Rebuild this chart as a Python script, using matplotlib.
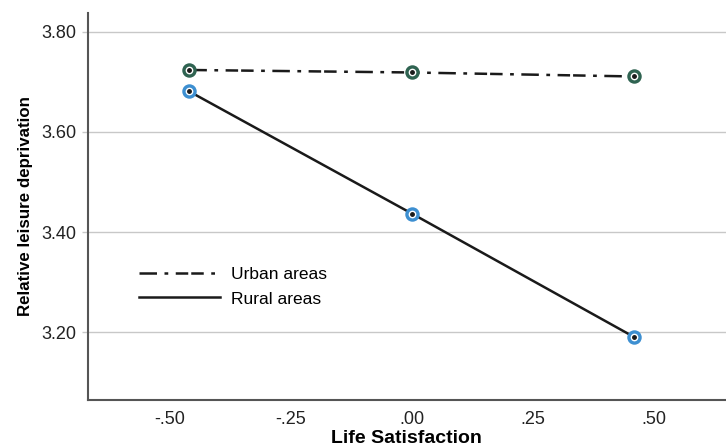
import matplotlib
matplotlib.use("Agg")
import matplotlib.pyplot as plt
from matplotlib.ticker import FuncFormatter

plt.rcParams['font.family'] = ['Liberation Sans', 'DejaVu Sans']

# data
life_sat = [-0.46, 0.0, 0.46]
urban = [3.724, 3.719, 3.711]
rural = [3.681, 3.437, 3.190]
x_ticks = [-0.50, -0.25, 0.0, 0.25, 0.50]
y_ticks = [3.20, 3.40, 3.60, 3.80]

fig = plt.figure(figsize=(7.26, 4.47), dpi=100)
ax = fig.add_axes([0.121, 0.105, 0.879, 0.866])

for y in y_ticks:
    ax.axhline(y, color='#c8c8c8', lw=1.0, zorder=0)

urb_line, = ax.plot(life_sat, urban, color='#1a1a1a', lw=1.8, label='Urban areas', zorder=2)
urb_line.set_dashes([7, 3, 1.5, 3, 5, 1.2, 5, 3, 1.5, 3])
ax.plot(life_sat, rural, color='#1a1a1a', lw=1.8, label='Rural areas', zorder=2)

ax.plot(life_sat, urban, 'o', ms=8, mfc='white', mec='#2f6351', mew=2.4, ls='none', zorder=3)
ax.plot(life_sat, rural, 'o', ms=8, mfc='white', mec='#3d8fd1', mew=2.4, ls='none', zorder=3)
ax.plot(life_sat, urban, 'o', ms=2.5, color='#1a1a1a', ls='none', zorder=4)
ax.plot(life_sat, rural, 'o', ms=2.5, color='#1a1a1a', ls='none', zorder=4)

ax.set_xlim(-0.67, 0.65)
ax.set_ylim(3.064, 3.838)
ax.set_xticks(x_ticks)
ax.set_yticks(y_ticks)

def fmt_x(v, pos):
    s = '%.2f' % v
    return s.replace('0.', '.')

ax.xaxis.set_major_formatter(FuncFormatter(fmt_x))
ax.yaxis.set_major_formatter(FuncFormatter(lambda v, p: '%.2f' % v))
ax.tick_params(axis='x', length=0, pad=8, labelsize=13, colors='#222222')
ax.tick_params(axis='y', length=4, width=1, color='#c8c8c8', pad=4, labelsize=13, labelcolor='#222222')

for s in ['top', 'right']:
    ax.spines[s].set_visible(False)
for s in ['left', 'bottom']:
    ax.spines[s].set_color('#555555')
    ax.spines[s].set_linewidth(1.5)

ax.set_xlabel('Life Satisfaction', fontsize=14, fontweight='bold', labelpad=1)
ax.set_ylabel('Relative leisure deprivation', fontsize=12.2, fontweight='bold', labelpad=6)

leg = ax.legend(loc='upper left', bbox_to_anchor=(0.055, 0.385), frameon=False,
                handlelength=4.7, fontsize=12.5, handletextpad=0.6, labelspacing=0.55)

fig.savefig('out.png', dpi=100)
